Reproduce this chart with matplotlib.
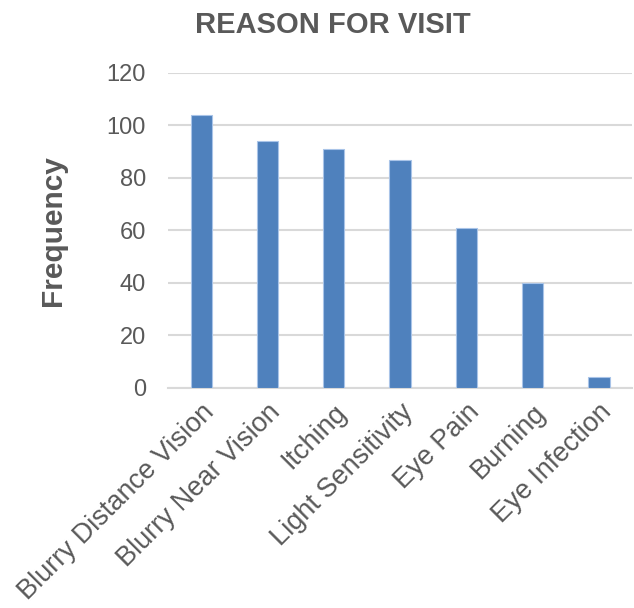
import matplotlib
matplotlib.use("Agg")
import matplotlib.pyplot as plt

# 数据
categories = ["Blurry Distance Vision", "Blurry Near Vision", "Itching",
              "Light Sensitivity", "Eye Pain", "Burning", "Eye Infection"]
frequency = [104, 94, 91, 87, 61, 40, 4]
y_ticks = [0, 20, 40, 60, 80, 100, 120]

plt.rcParams['font.family'] = ['Liberation Sans', 'DejaVu Sans']

fig = plt.figure(figsize=(6.34, 6.08), dpi=100)
ax = fig.add_axes([0.265, 0.362, 0.732, 0.518])

x = range(len(categories))
ax.bar(x, frequency, width=0.32, color='#4f81bd', edgecolor='#a9c4e8',
       linewidth=0.8, zorder=3)

ax.set_ylim(0, 120)
ax.set_xlim(-0.5, len(categories) - 0.5)
ax.set_yticks(y_ticks)
ax.set_yticklabels([str(v) for v in y_ticks], fontsize=17, color='#595959')
ax.set_xticks(list(x))
ax.set_xticklabels(categories, rotation=45, ha='right', rotation_mode='anchor',
                   fontsize=19.5, color='#595959')

ax.grid(axis='y', color='#d9d9d9', linewidth=1.5, zorder=0)
for s in ['top', 'right', 'left']:
    ax.spines[s].set_visible(False)
ax.spines['bottom'].set_color('#d9d9d9')
ax.spines['bottom'].set_linewidth(1.5)
ax.tick_params(axis='y', length=0, pad=16)
ax.tick_params(axis='x', length=0, pad=8)

ax.set_ylabel('Frequency', fontsize=21.5, fontweight='heavy', color='#595959')
ax.yaxis.set_label_coords(-0.218, 0.5)
fig.suptitle('REASON FOR VISIT', fontsize=21, fontweight='bold', color='#595959',
             x=0.525, y=0.982)

fig.savefig('out.png', dpi=100)
